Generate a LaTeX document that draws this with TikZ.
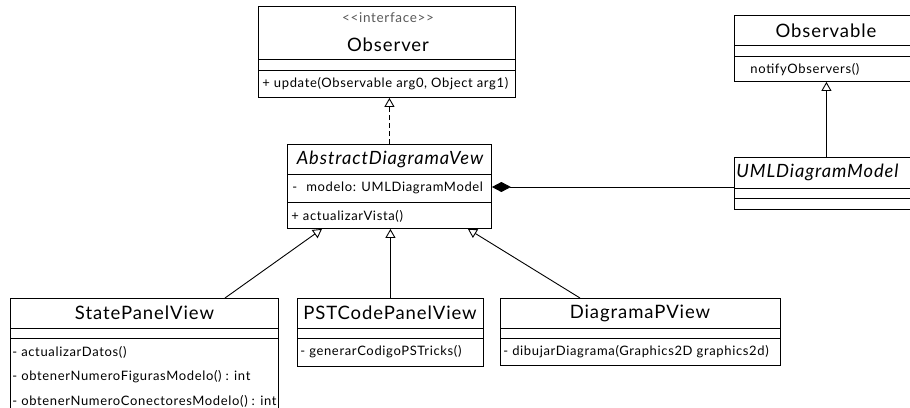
\documentclass[tikz,border=0pt]{standalone}
\usepackage{fontspec}
\newfontfamily\umlfont{Lato}[LetterSpace=5]
\usetikzlibrary{arrows.meta,calc}
\begin{document}
\begin{tikzpicture}[x=1pt,y=-1pt,line width=0.9pt,
  cls/.style={draw,rectangle,anchor=north west,inner sep=0pt},
  classname/.style={inner sep=0pt,font=\umlfont\fontsize{18.5}{20}\selectfont},
  abstractname/.style={inner sep=0pt,font=\umlfont\fontsize{18.3}{20}\selectfont\itshape},
  stereo/.style={inner sep=0pt,font=\umlfont\fontsize{13.5}{15}\selectfont,text=black!65},
  member/.style={inner sep=0pt,anchor=west,font=\umlfont\fontsize{13}{15}\selectfont},
  gen/.style={-{Triangle[open,width=10pt,length=9pt,line width=0.9pt]}},
  real/.style={gen,dash pattern=on 5pt off 3pt},
  compose/.style={{Diamond[width=10pt,length=19pt]}-}]
\useasboundingbox (0,0) rectangle (910,407);
\clip (0,0) rectangle (910,407);

% Observer interface
\node[cls,minimum width=257pt,minimum height=91pt] (observer) at (258,6) {};
\draw (258,59) -- (515,59) (258,70) -- (515,70);
\node[stereo] (observer-st) at (388,18) {{<}{<}interface{>}{>}};
\node[classname] (observer-name) at (388,45) {Observer};
\node[member] (observer-op) at (262,84) {+ update(Observable arg0, Object arg1)};

% Observable
\node[cls,minimum width=184pt,minimum height=66pt] (observable) at (734,15) {};
\draw (734,45) -- (918,45) (734,56) -- (918,56);
\node[classname] (observable-name) at (826,31) {Observable};
\node[member] (observable-op) at (750,70) {notifyObservers()};

% AbstractDiagramaVew
\node[cls,minimum width=204pt,minimum height=84pt] (abstract) at (287,144) {};
\draw (287,174) -- (491,174) (287,202) -- (491,202);
\node[abstractname] (abstract-name) at (390,159) {AbstractDiagramaVew};
\node[member] (abstract-at) at (292,188) {-\hspace{9pt}modelo: UMLDiagramModel};
\node[member] (abstract-op) at (291,216) {+ actualizarVista()};

% UMLDiagramModel
\node[cls,minimum width=184pt,minimum height=52pt] (uml) at (734,157) {};
\draw (734,188) -- (918,188) (734,198) -- (918,198);
\node[abstractname,anchor=west] (uml-name) at (736,172) {UMLDiagramModel};

% StatePanelView
\node[cls,minimum width=268pt,minimum height=140pt] (state) at (10,298) {};
\draw (10,328) -- (278,328) (10,338) -- (278,338);
\node[classname] (state-name) at (144.5,313) {StatePanelView};
\node[member] (state-op1) at (12,352) {- actualizarDatos()};
\node[member] (state-op2) at (12,377) {- obtenerNumeroFigurasModelo() : int};
\node[member] (state-op3) at (12,401) {- obtenerNumeroConectoresModelo() : int};

% PSTCodePanelView
\node[cls,minimum width=186pt,minimum height=68pt] (pst) at (297,298) {};
\draw (297,328) -- (483,328) (297,338) -- (483,338);
\node[classname] (pst-name) at (390,313) {PSTCodePanelView};
\node[member] (pst-op) at (300,352) {- generarCodigoPSTricks()};

% DiagramaPView
\node[cls,minimum width=280pt,minimum height=67pt] (diagp) at (500,298) {};
\draw (500,328) -- (780,328) (500,338) -- (780,338);
\node[classname] (diagp-name) at (640,313) {DiagramaPView};
\node[member] (diagp-op) at (503,352) {- dibujarDiagrama(Graphics2D graphics2d)};

% Relations
\draw[real] (abstract.north) -- (abstract.north |- observer.south);
\draw[gen] (uml.north) -- (observable.south);
\coordinate (comp-a) at ($(abstract.north east)+(0,43)$);
\coordinate (comp-b) at ($(uml.north west)+(0,30)$);
\draw[compose] (comp-a) -- (comp-b);
\coordinate (state-top) at ($(state.north west)+(215,0)$);
\coordinate (abs-left) at ($(abstract.south west)+(35,0)$);
\coordinate (diagp-top) at ($(diagp.north west)+(80,0)$);
\coordinate (abs-right) at ($(abstract.south east)+(-24,0)$);
\draw[gen] (state-top) -- (abs-left);
\draw[gen] (pst.north) -- (pst.north |- abstract.south);
\draw[gen] (diagp-top) -- (abs-right);
\end{tikzpicture}
\end{document}
